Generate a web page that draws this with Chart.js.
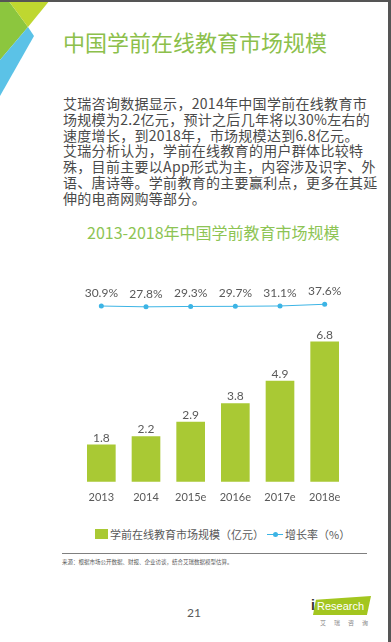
<!DOCTYPE html>
<html>
<head>
<meta charset="utf-8">
<script src="https://cdn.jsdelivr.net/npm/chart.js@4.4.1/dist/chart.umd.min.js"></script>
<style>
  html, body { margin: 0; padding: 0; }
  body { width: 391px; height: 642px; position: relative; overflow: hidden; background: #fff;
         font-family: "Noto Sans CJK SC", "Noto Sans", sans-serif; }
  .abs { position: absolute; white-space: nowrap; }
  #topbar { left: 0; top: 0; width: 391px; height: 2px; background: #555; }
  #rightbar { left: 388px; top: 0; width: 3px; height: 642px; background: #555; }
  #deco { left: 0; top: 0; }
  #title { left: 63px; top: 26px; font-size: 22px; line-height: 30px; color: #8cc04b; }
  #para { left: 63px; top: 96px; font-size: 14px; line-height: 15.8px; color: #4a4a4a; letter-spacing: 0.3px; }
  #sub { left: 87px; top: 221px; font-size: 16px; line-height: 22px; color: #8dc454; }
  #wrap { left: 75px; top: 272px; width: 276px; height: 241px; }
  #legend { left: 95px; top: 524px; font-size: 11px; line-height: 16px; color: #595959; }
  #legend span { display: inline-block; vertical-align: middle; }
  .box { width: 13px; height: 10px; background: #a9c934; margin-right: 2px; }
  .lmark { position: relative; width: 16px; height: 10px; margin: 0 2px 0 3px; }
  .lmark i { position: absolute; left: 0; top: 4.5px; width: 16px; height: 1px; background: #3cb4e5; }
  .lmark b { position: absolute; left: 5.5px; top: 2.5px; width: 5px; height: 5px; border-radius: 50%; background: #3cb4e5; }
  #rule { left: 62px; top: 553px; width: 305px; height: 1px; background: #7f7f7f; }
  #src { left: 62px; top: 559px; font-size: 5.5px; line-height: 7px; color: #595959; }
  #page { left: 187px; top: 605px; font-size: 12px; line-height: 16px; color: #595959; font-family: Lato, sans-serif; }
  #logo { left: 313px; top: 596px; width: 58px; height: 19px; background: #a3c61f;
          clip-path: polygon(5% 20%, 100% 0, 93% 100%, 0 100%); }
  #logoText { left: 317px; top: 598px; font-size: 11px; line-height: 16px; color: #fff; font-family: "Liberation Sans", sans-serif; }
  #logoI { left: 311px; top: 596px; font-size: 14px; line-height: 18px; color: #333; font-weight: bold; font-family: "Liberation Sans", sans-serif; }
  #logoCn { left: 320px; top: 619px; font-size: 6px; line-height: 8px; color: #888; letter-spacing: 8px; }
</style>
</head>
<body>
<svg class="abs" id="deco" width="60" height="100">
  <polygon points="0,0 8,0 28,27 0,60" fill="#8cc63e"/>
  <polygon points="8,0 50,0 28,27" fill="#bfd730"/>
  <polygon points="28,27 34,36 0,96 0,60" fill="#5bc2e7"/>
</svg>
<div class="abs" id="topbar"></div>
<div class="abs" id="rightbar"></div>

<div class="abs" id="title">中国学前在线教育市场规模</div>
<div class="abs" id="para">艾瑞咨询数据显示，2014年中国学前在线教育市<br>场规模为2.2亿元，预计之后几年将以30%左右的<br>速度增长，到2018年，市场规模达到6.8亿元。<br>艾瑞分析认为，学前在线教育的用户群体比较特<br>殊，目前主要以App形式为主，内容涉及识字、外<br>语、唐诗等。学前教育的主要赢利点，更多在其延<br>伸的电商网购等部分。</div>
<div class="abs" id="sub">2013-2018年中国学前教育市场规模</div>

<div class="abs" id="wrap"><canvas id="chart"></canvas></div>

<div class="abs" id="legend"><span class="box"></span><span>学前在线教育市场规模（亿元）</span><span class="lmark"><i></i><b></b></span><span>增长率（%）</span></div>

<div class="abs" id="rule"></div>
<div class="abs" id="src">来源：根据市场公开数据、财报、企业访谈，结合艾瑞数据模型估算。</div>
<div class="abs" id="page">21</div>
<div class="abs" id="logo"></div>
<div class="abs" id="logoI">i</div>
<div class="abs" id="logoText">Research</div>
<div class="abs" id="logoCn">艾瑞咨询</div>

<script>
const years = ["2013", "2014", "2015e", "2016e", "2017e", "2018e"];
const marketSize = [1.8, 2.2, 2.9, 3.8, 4.9, 6.8];
const growthRate = [30.9, 27.8, 29.3, 29.7, 31.1, 37.6];

const GREEN = "#a9c934";
const BLUE = "#3cb4e5";
const GREY = "#595959";

// value labels above bars and line points
const valueLabels = {
  id: "valueLabels",
  afterDatasetsDraw(chart) {
    const ctx = chart.ctx;
    ctx.save();
    ctx.textAlign = "center";
    ctx.textBaseline = "middle";
    ctx.fillStyle = GREY;
    ctx.font = "12px Lato, sans-serif";
    chart.data.datasets.forEach((ds, i) => {
      const meta = chart.getDatasetMeta(i);
      meta.data.forEach((el, j) => {
        if (ds.type === "line") {
          ctx.fillText(ds.data[j].toFixed(1) + "%", el.x, el.y - 13);
        } else {
          ctx.fillText(ds.data[j].toFixed(1), el.x, el.y - 7);
        }
      });
    });
    ctx.restore();
  }
};

new Chart(document.getElementById("chart"), {
  data: {
    labels: years,
    datasets: [
      {
        type: "line",
        label: "增长率（%）",
        data: growthRate,
        yAxisID: "y1",
        borderColor: BLUE,
        backgroundColor: BLUE,
        borderWidth: 1,
        pointRadius: 2.5,
        pointBorderWidth: 0,
        tension: 0,
        order: 0
      },
      {
        type: "bar",
        label: "学前在线教育市场规模（亿元）",
        data: marketSize,
        yAxisID: "y",
        backgroundColor: GREEN,
        barThickness: 28,
        order: 1
      }
    ]
  },
  options: {
    responsive: true,
    maintainAspectRatio: false,
    animation: false,
    layout: { padding: 0 },
    plugins: {
      legend: { display: false },
      tooltip: { enabled: false }
    },
    scales: {
      x: {
        grid: { display: false, drawTicks: false },
        border: { display: false },
        ticks: { color: GREY, font: { family: "Lato", size: 11 }, padding: 9 }
      },
      y: { display: false, min: 0, max: 10 },
      y1: { display: false, min: -643, max: 146 }
    }
  },
  plugins: [valueLabels]
});
</script>
</body>
</html>
